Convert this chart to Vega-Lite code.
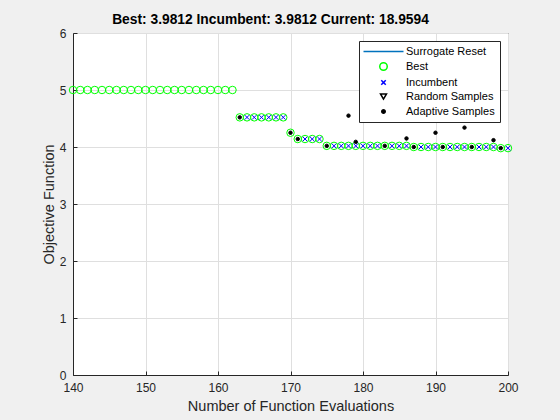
{
  "$schema": "https://vega.github.io/schema/vega-lite/v6.json",
  "width": 435,
  "height": 342,
  "autosize": {"type": "none"},
  "padding": {"left": 73, "top": 33, "right": 52, "bottom": 45},
  "background": "#f0f0f0",
  "title": {
    "text": "Best: 3.9812 Incumbent: 3.9812 Current: 18.9594",
    "font": "Liberation Sans",
    "fontSize": 13.8,
    "fontWeight": "bold",
    "color": "#000000",
    "anchor": "middle",
    "dx": -20,
    "offset": 0
  },
  "config": {
    "view": {"fill": "#ffffff", "stroke": "#262626", "strokeWidth": 1},
    "axis": {
      "labelFont": "Liberation Sans",
      "titleFont": "Liberation Sans",
      "labelFontSize": 12,
      "titleFontSize": 14.5,
      "titleFontWeight": "normal",
      "labelColor": "#262626",
      "titleColor": "#262626",
      "domainColor": "#262626",
      "tickColor": "#262626",
      "gridColor": "#dfdfdf",
      "grid": true,
      "tickSize": -4,
      "labelPadding": 11,
      "labelFlush": false
    },
    "legend": {
      "labelFont": "Liberation Sans",
      "labelFontSize": 11,
      "labelColor": "#000000"
    }
  },
  "data": {
    "values": [
      {"x": 140, "y": 5.0, "series": "Best"},
      {"x": 141, "y": 5.0, "series": "Best"},
      {"x": 142, "y": 5.0, "series": "Best"},
      {"x": 143, "y": 5.0, "series": "Best"},
      {"x": 144, "y": 5.0, "series": "Best"},
      {"x": 145, "y": 5.0, "series": "Best"},
      {"x": 146, "y": 5.0, "series": "Best"},
      {"x": 147, "y": 5.0, "series": "Best"},
      {"x": 148, "y": 5.0, "series": "Best"},
      {"x": 149, "y": 5.0, "series": "Best"},
      {"x": 150, "y": 5.0, "series": "Best"},
      {"x": 151, "y": 5.0, "series": "Best"},
      {"x": 152, "y": 5.0, "series": "Best"},
      {"x": 153, "y": 5.0, "series": "Best"},
      {"x": 154, "y": 5.0, "series": "Best"},
      {"x": 155, "y": 5.0, "series": "Best"},
      {"x": 156, "y": 5.0, "series": "Best"},
      {"x": 157, "y": 5.0, "series": "Best"},
      {"x": 158, "y": 5.0, "series": "Best"},
      {"x": 159, "y": 5.0, "series": "Best"},
      {"x": 160, "y": 5.0, "series": "Best"},
      {"x": 161, "y": 5.0, "series": "Best"},
      {"x": 162, "y": 5.0, "series": "Best"},
      {"x": 163, "y": 4.52, "series": "Best"},
      {"x": 164, "y": 4.52, "series": "Best"},
      {"x": 165, "y": 4.52, "series": "Best"},
      {"x": 166, "y": 4.52, "series": "Best"},
      {"x": 167, "y": 4.52, "series": "Best"},
      {"x": 168, "y": 4.52, "series": "Best"},
      {"x": 169, "y": 4.52, "series": "Best"},
      {"x": 170, "y": 4.25, "series": "Best"},
      {"x": 171, "y": 4.14, "series": "Best"},
      {"x": 172, "y": 4.14, "series": "Best"},
      {"x": 173, "y": 4.14, "series": "Best"},
      {"x": 174, "y": 4.14, "series": "Best"},
      {"x": 175, "y": 4.02, "series": "Best"},
      {"x": 176, "y": 4.02, "series": "Best"},
      {"x": 177, "y": 4.02, "series": "Best"},
      {"x": 178, "y": 4.02, "series": "Best"},
      {"x": 179, "y": 4.02, "series": "Best"},
      {"x": 180, "y": 4.02, "series": "Best"},
      {"x": 181, "y": 4.02, "series": "Best"},
      {"x": 182, "y": 4.02, "series": "Best"},
      {"x": 183, "y": 4.02, "series": "Best"},
      {"x": 184, "y": 4.02, "series": "Best"},
      {"x": 185, "y": 4.02, "series": "Best"},
      {"x": 186, "y": 4.02, "series": "Best"},
      {"x": 187, "y": 4.0, "series": "Best"},
      {"x": 188, "y": 4.0, "series": "Best"},
      {"x": 189, "y": 4.0, "series": "Best"},
      {"x": 190, "y": 4.0, "series": "Best"},
      {"x": 191, "y": 4.0, "series": "Best"},
      {"x": 192, "y": 4.0, "series": "Best"},
      {"x": 193, "y": 4.0, "series": "Best"},
      {"x": 194, "y": 4.0, "series": "Best"},
      {"x": 195, "y": 4.0, "series": "Best"},
      {"x": 196, "y": 4.0, "series": "Best"},
      {"x": 197, "y": 4.0, "series": "Best"},
      {"x": 198, "y": 4.0, "series": "Best"},
      {"x": 199, "y": 3.98, "series": "Best"},
      {"x": 200, "y": 3.98, "series": "Best"},
      {"x": 164, "y": 4.52, "series": "Incumbent"},
      {"x": 165, "y": 4.52, "series": "Incumbent"},
      {"x": 166, "y": 4.52, "series": "Incumbent"},
      {"x": 167, "y": 4.52, "series": "Incumbent"},
      {"x": 168, "y": 4.52, "series": "Incumbent"},
      {"x": 169, "y": 4.52, "series": "Incumbent"},
      {"x": 172, "y": 4.14, "series": "Incumbent"},
      {"x": 173, "y": 4.14, "series": "Incumbent"},
      {"x": 174, "y": 4.14, "series": "Incumbent"},
      {"x": 176, "y": 4.02, "series": "Incumbent"},
      {"x": 177, "y": 4.02, "series": "Incumbent"},
      {"x": 178, "y": 4.02, "series": "Incumbent"},
      {"x": 179, "y": 4.02, "series": "Incumbent"},
      {"x": 180, "y": 4.02, "series": "Incumbent"},
      {"x": 181, "y": 4.02, "series": "Incumbent"},
      {"x": 182, "y": 4.02, "series": "Incumbent"},
      {"x": 184, "y": 4.02, "series": "Incumbent"},
      {"x": 185, "y": 4.02, "series": "Incumbent"},
      {"x": 186, "y": 4.02, "series": "Incumbent"},
      {"x": 188, "y": 4.0, "series": "Incumbent"},
      {"x": 189, "y": 4.0, "series": "Incumbent"},
      {"x": 190, "y": 4.0, "series": "Incumbent"},
      {"x": 192, "y": 4.0, "series": "Incumbent"},
      {"x": 193, "y": 4.0, "series": "Incumbent"},
      {"x": 194, "y": 4.0, "series": "Incumbent"},
      {"x": 196, "y": 4.0, "series": "Incumbent"},
      {"x": 197, "y": 4.0, "series": "Incumbent"},
      {"x": 198, "y": 4.0, "series": "Incumbent"},
      {"x": 200, "y": 3.98, "series": "Incumbent"},
      {"x": 163, "y": 4.52, "series": "Adaptive Samples"},
      {"x": 170, "y": 4.25, "series": "Adaptive Samples"},
      {"x": 171, "y": 4.14, "series": "Adaptive Samples"},
      {"x": 175, "y": 4.02, "series": "Adaptive Samples"},
      {"x": 178, "y": 4.55, "series": "Adaptive Samples"},
      {"x": 179, "y": 4.09, "series": "Adaptive Samples"},
      {"x": 183, "y": 4.02, "series": "Adaptive Samples"},
      {"x": 186, "y": 4.15, "series": "Adaptive Samples"},
      {"x": 187, "y": 4.0, "series": "Adaptive Samples"},
      {"x": 190, "y": 4.25, "series": "Adaptive Samples"},
      {"x": 191, "y": 4.0, "series": "Adaptive Samples"},
      {"x": 194, "y": 4.34, "series": "Adaptive Samples"},
      {"x": 195, "y": 4.0, "series": "Adaptive Samples"},
      {"x": 198, "y": 4.12, "series": "Adaptive Samples"},
      {"x": 199, "y": 3.98, "series": "Adaptive Samples"}
    ]
  },
  "mark": {"type": "point", "strokeWidth": 1, "opacity": 1},
  "encoding": {
    "x": {
      "field": "x",
      "type": "quantitative",
      "scale": {"domain": [140, 200], "nice": false, "zero": false},
      "axis": {"values": [140, 150, 160, 170, 180, 190, 200], "title": "Number of Function Evaluations", "titlePadding": 6}
    },
    "y": {
      "field": "y",
      "type": "quantitative",
      "scale": {"domain": [0, 6], "nice": false, "zero": false},
      "axis": {"values": [0, 1, 2, 3, 4, 5, 6], "title": "Objective Function", "titlePadding": 3}
    },
    "shape": {
      "field": "series",
      "type": "nominal",
      "scale": {
        "domain": ["Surrogate Reset", "Best", "Incumbent", "Random Samples", "Adaptive Samples"],
        "range": ["M-10,0L10,0", "circle", "M-1,-1L1,1M-1,1L1,-1", "triangle-down", "circle"]
      },
      "legend": {
        "title": null,
        "orient": "none",
        "legendX": 286,
        "legendY": 8,
        "padding": 5,
        "strokeColor": "#262626",
        "fillColor": "#ffffff",
        "rowPadding": 2,
        "symbolOffset": 14,
        "labelOffset": 17,
        "cornerRadius": 0
      }
    },
    "stroke": {
      "field": "series",
      "type": "nominal",
      "scale": {
        "domain": ["Surrogate Reset", "Best", "Incumbent", "Random Samples", "Adaptive Samples"],
        "range": ["#0072BD", "#00FF00", "#0000FF", "#000000", "#000000"]
      },
      "legend": {"title": null}
    },
    "fill": {
      "field": "series",
      "type": "nominal",
      "scale": {
        "domain": ["Surrogate Reset", "Best", "Incumbent", "Random Samples", "Adaptive Samples"],
        "range": ["transparent", "transparent", "transparent", "transparent", "#000000"]
      },
      "legend": {"title": null}
    },
    "size": {
      "field": "series",
      "type": "nominal",
      "scale": {
        "type": "ordinal",
        "domain": ["Surrogate Reset", "Best", "Incumbent", "Random Samples", "Adaptive Samples"],
        "range": [16, 56, 20, 36, 12]
      },
      "legend": {"title": null}
    }
  }
}
